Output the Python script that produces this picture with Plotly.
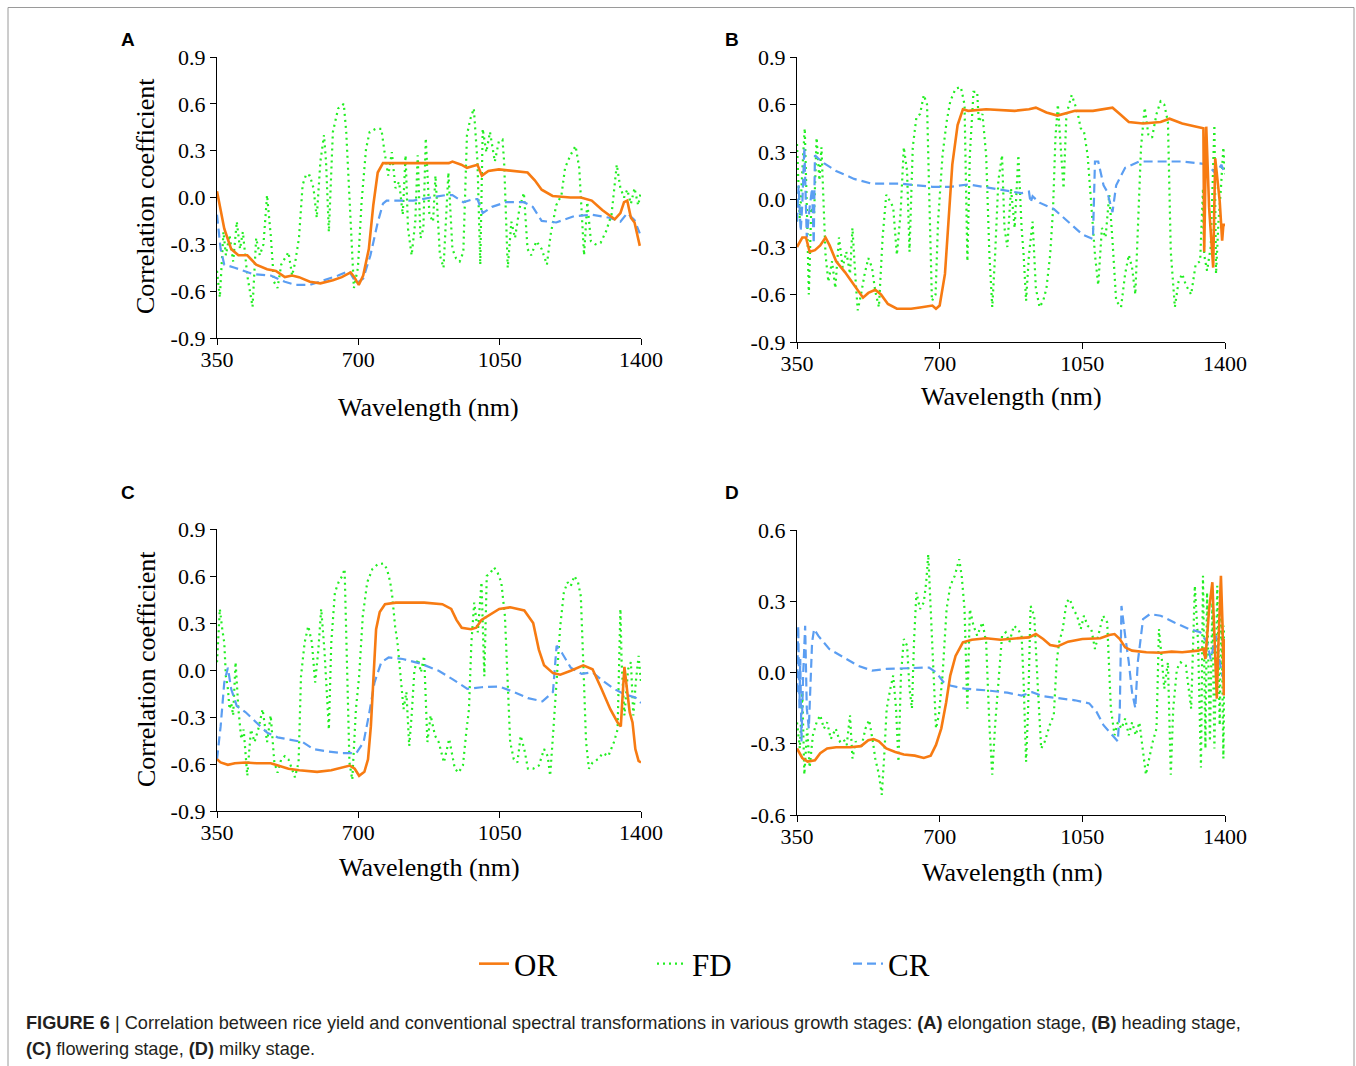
import plotly.graph_objects as go

# ---------------- data ----------------
X_TICKS = [350, 700, 1050, 1400]
X_TICK_LABELS = ["350", "700", "1050", "1400"]
Y_TICKS_ABC = [0.9, 0.6, 0.3, 0.0, -0.3, -0.6, -0.9]
Y_TICK_LABELS_ABC = ["0.9", "0.6", "0.3", "0.0", "-0.3", "-0.6", "-0.9"]
Y_TICKS_D = [0.6, 0.3, 0.0, -0.3, -0.6]
Y_TICK_LABELS_D = ["0.6", "0.3", "0.0", "-0.3", "-0.6"]
SERIES_NAMES = ["OR", "FD", "CR"]
PANEL_LETTERS = ["A", "B", "C", "D"]

A_OR = [(350,0.04),(368,-0.20),(385,-0.33),(403,-0.37),(425,-0.37),(447,-0.43),(474,-0.46),(496,-0.47),
        (518,-0.51),(536,-0.50),(553,-0.51),(580,-0.54),(606,-0.55),(637,-0.53),(659,-0.51),(681,-0.48),
        (690,-0.51),(701,-0.56),(712,-0.50),(726,-0.33),(737,-0.05),(748,0.16),(761,0.22),(792,0.22),
        (880,0.22),(924,0.22),(933,0.23),(955,0.21),(969,0.19),(991,0.21),(995,0.21),(1006,0.14),
        (1022,0.17),(1048,0.18),(1084,0.17),(1119,0.16),(1137,0.11),(1154,0.05),(1181,0.01),(1225,0.0),
        (1251,0.0),(1278,-0.02),(1304,-0.08),(1335,-0.14),(1349,-0.10),(1358,-0.03),(1366,-0.02),
        (1375,-0.13),(1384,-0.16),(1391,-0.24),(1397,-0.31)]
A_CR = [(350,-0.11),(359,-0.33),(368,-0.43),(394,-0.45),(438,-0.49),(483,-0.50),(518,-0.54),(544,-0.56),
        (580,-0.56),(615,-0.53),(650,-0.50),(677,-0.47),(695,-0.55),(712,-0.52),(730,-0.37),(748,-0.16),
        (761,-0.04),(770,-0.02),(836,-0.02),(880,0.0),(916,0.015),(933,0.015),(960,-0.03),(986,-0.01),
        (995,-0.01),(1008,-0.10),(1031,-0.06),(1066,-0.03),(1110,-0.03),(1132,-0.06),(1154,-0.15),
        (1190,-0.16),(1234,-0.12),(1278,-0.11),(1322,-0.13),(1349,-0.155),(1366,-0.10),(1384,-0.145),
        (1397,-0.23)]
A_FD = [(350,-0.47),(357,-0.64),(366,-0.22),(372,-0.37),(381,-0.24),(390,-0.41),(399,-0.155),(407,-0.33),
        (414,-0.22),(425,-0.50),(438,-0.70),(447,-0.26),(456,-0.37),(465,-0.30),(474,0.015),(483,-0.24),
        (491,-0.54),(500,-0.58),(509,-0.43),(518,-0.39),(527,-0.35),(536,-0.50),(544,-0.41),(553,-0.26),
        (562,0.08),(571,0.15),(580,0.14),(589,0.06),(597,-0.13),(606,0.23),(615,0.40),(620,0.23),
        (627,-0.22),(637,0.42),(650,0.57),(664,0.60),(670,0.42),(679,-0.05),(689,-0.58),(699,-0.45),
        (708,-0.03),(719,0.31),(728,0.42),(743,0.44),(757,0.44),(765,0.29),(774,0.14),(783,0.29),
        (792,0.06),(801,0.10),(810,-0.11),(817,0.27),(823,-0.20),(832,-0.37),(841,-0.155),(847,0.27),
        (854,-0.26),(861,-0.20),(867,0.38),(876,-0.11),(885,-0.155),(891,0.14),(902,-0.37),(911,-0.45),
        (923,0.16),(933,-0.33),(942,-0.39),(951,-0.41),(960,-0.35),(969,0.40),(977,0.50),(986,0.57),
        (995,0.23),(1002,-0.43),(1008,0.44),(1017,0.29),(1026,0.42),(1038,0.23),(1048,0.36),(1057,0.37),
        (1061,0.23),(1070,-0.45),(1079,-0.155),(1088,-0.26),(1099,-0.07),(1110,0.03),(1119,-0.33),
        (1128,-0.37),(1141,-0.28),(1154,-0.33),(1167,-0.43),(1176,-0.24),(1190,-0.05),(1203,0.015),
        (1212,0.19),(1225,0.27),(1238,0.33),(1247,0.19),(1259,-0.37),(1267,-0.03),(1276,-0.28),
        (1287,-0.30),(1300,-0.29),(1313,-0.22),(1327,-0.11),(1340,0.21),(1349,0.06),(1358,0.0),
        (1366,0.05),(1375,-0.04),(1384,0.06),(1393,-0.05),(1400,0.04)]

B_OR = [(350,-0.30),(363,-0.24),(372,-0.24),(381,-0.33),(394,-0.32),(407,-0.29),(420,-0.24),(430,-0.29),
        (446,-0.39),(468,-0.46),(490,-0.54),(512,-0.62),(525,-0.59),(542,-0.57),(556,-0.60),(573,-0.66),
        (595,-0.69),(630,-0.69),(656,-0.68),(682,-0.67),(691,-0.69),(700,-0.67),(713,-0.47),(722,-0.12),
        (731,0.22),(744,0.47),(757,0.57),(770,0.56),(814,0.57),(884,0.56),(919,0.57),(936,0.58),
        (962,0.55),(989,0.53),(1032,0.56),(1076,0.56),(1102,0.57),(1124,0.58),(1142,0.54),(1164,0.49),
        (1199,0.48),(1242,0.49),(1264,0.51),(1295,0.48),(1330,0.46),(1347,0.45),(1349,-0.33),(1354,0.46),
        (1361,-0.05),(1371,-0.43),(1376,0.26),(1387,-0.01),(1393,-0.26),(1396,-0.16),(1400,-0.16)]
B_CR = [(350,-0.14),(354,0.09),(359,-0.20),(363,-0.03),(368,0.33),(374,-0.24),(381,-0.05),(387,0.07),
        (391,-0.28),(394,0.28),(402,0.26),(416,0.23),(446,0.18),(490,0.13),(534,0.10),(604,0.10),
        (682,0.08),(726,0.08),(770,0.095),(814,0.075),(857,0.06),(901,0.04),(919,0.05),(923,-0.02),
        (928,0.02),(945,-0.02),(980,-0.06),(1015,-0.14),(1050,-0.22),(1076,-0.25),(1081,0.24),(1089,0.24),
        (1102,0.09),(1111,0.05),(1124,-0.08),(1133,0.09),(1155,0.20),(1190,0.24),(1251,0.24),(1295,0.24),
        (1347,0.225),(1365,0.20),(1378,0.16),(1391,0.22),(1400,0.16)]
B_FD = [(350,0.35),(357,-0.14),(363,0.18),(369,0.45),(375,-0.14),(379,-0.60),(385,-0.05),(392,-0.09),
        (398,0.39),(405,0.12),(410,0.33),(416,-0.03),(420,-0.35),(427,-0.52),(436,-0.39),(444,-0.56),
        (453,-0.24),(462,-0.43),(471,-0.33),(480,-0.47),(486,-0.18),(494,-0.52),(499,-0.70),(507,-0.60),
        (516,-0.47),(525,-0.37),(534,-0.43),(542,-0.58),(551,-0.68),(560,-0.24),(569,0.03),(578,-0.01),
        (586,-0.05),(595,-0.35),(604,-0.09),(612,0.33),(620,0.18),(626,-0.33),(634,0.33),(643,0.52),
        (652,0.54),(661,0.66),(669,0.60),(674,0.07),(681,-0.64),(690,-0.60),(696,-0.14),(707,0.28),
        (717,0.49),(726,0.62),(739,0.70),(752,0.71),(761,0.60),(768,-0.39),(774,0.28),(783,0.68),
        (792,0.68),(796,0.49),(805,0.54),(814,0.28),(822,-0.35),(829,-0.68),(836,-0.35),(844,0.12),
        (853,0.28),(859,-0.18),(866,-0.30),(875,0.07),(884,-0.18),(893,0.28),(901,-0.18),(906,-0.35),
        (912,-0.64),(919,-0.35),(928,-0.14),(936,-0.56),(945,-0.68),(954,-0.64),(962,-0.56),(971,-0.35),
        (978,-0.07),(984,0.39),(990,0.60),(997,0.33),(1004,0.07),(1011,0.54),(1024,0.66),(1032,0.60),
        (1039,0.54),(1046,0.45),(1054,0.43),(1063,0.28),(1072,-0.05),(1081,-0.35),(1089,-0.54),
        (1098,-0.18),(1107,-0.24),(1116,0.03),(1124,-0.26),(1133,-0.64),(1145,-0.68),(1155,-0.47),
        (1164,-0.35),(1172,-0.43),(1180,-0.60),(1186,-0.18),(1194,0.33),(1203,0.58),(1212,0.41),
        (1221,0.39),(1232,0.54),(1242,0.62),(1251,0.60),(1260,0.49),(1267,-0.33),(1277,-0.68),
        (1286,-0.52),(1295,-0.47),(1304,-0.54),(1317,-0.60),(1328,-0.41),(1339,-0.39),(1346,0.07),
        (1349,-0.35),(1356,-0.45),(1365,-0.30),(1374,0.47),(1378,-0.47),(1384,-0.14),(1390,0.07),
        (1396,0.33),(1400,0.16)]

C_OR = [(350,-0.57),(359,-0.59),(377,-0.605),(394,-0.595),(421,-0.59),(447,-0.595),(483,-0.595),
        (500,-0.61),(527,-0.63),(554,-0.64),(598,-0.65),(633,-0.64),(660,-0.62),(679,-0.61),(691,-0.63),
        (702,-0.675),(715,-0.65),(724,-0.57),(731,-0.36),(738,0.005),(744,0.26),(753,0.37),(766,0.42),
        (793,0.43),(863,0.43),(908,0.42),(930,0.39),(943,0.32),(956,0.27),(979,0.26),(992,0.27),
        (1005,0.32),(1023,0.35),(1049,0.39),(1076,0.40),(1111,0.38),(1133,0.30),(1147,0.13),(1160,0.03),
        (1182,-0.02),(1200,-0.03),(1226,-0.005),(1257,0.03),(1280,0.005),(1302,-0.12),(1324,-0.25),
        (1342,-0.335),(1350,-0.36),(1355,-0.14),(1359,0.02),(1366,-0.14),(1372,-0.27),(1379,-0.335),
        (1386,-0.505),(1394,-0.58),(1400,-0.59)]
C_CR = [(350,-0.57),(359,-0.36),(368,-0.08),(377,0.015),(385,-0.12),(399,-0.23),(421,-0.27),(447,-0.335),
        (474,-0.40),(500,-0.43),(536,-0.445),(562,-0.46),(589,-0.505),(624,-0.52),(660,-0.53),(695,-0.53),
        (713,-0.46),(726,-0.29),(740,-0.08),(757,0.05),(775,0.08),(810,0.07),(855,0.04),(899,-0.005),
        (934,-0.06),(970,-0.12),(1005,-0.11),(1049,-0.105),(1085,-0.14),(1120,-0.18),(1156,-0.20),
        (1182,-0.14),(1191,0.155),(1204,0.11),(1226,0.015),(1253,-0.025),(1280,-0.015),(1306,-0.07),
        (1333,-0.12),(1359,-0.155),(1386,-0.175),(1400,-0.21)]
C_FD = [(350,0.05),(357,0.39),(363,0.26),(368,0.175),(372,-0.04),(377,-0.12),(381,-0.25),(385,-0.21),
        (390,-0.29),(396,0.05),(403,-0.25),(410,-0.44),(416,-0.38),(425,-0.675),(434,-0.38),(443,-0.46),
        (452,-0.38),(463,-0.25),(474,-0.46),(483,-0.29),(492,-0.59),(500,-0.655),(509,-0.57),(518,-0.55),
        (527,-0.57),(536,-0.63),(543,-0.685),(552,-0.59),(558,-0.04),(567,0.175),(576,0.28),(585,0.175),
        (593,-0.08),(601,0.13),(608,0.39),(616,0.13),(620,-0.08),(627,-0.38),(633,0.175),(642,0.495),
        (651,0.56),(660,0.60),(666,0.645),(671,0.175),(678,-0.59),(685,-0.70),(694,-0.25),(702,-0.04),
        (711,0.345),(722,0.56),(735,0.645),(748,0.675),(762,0.68),(771,0.645),(779,0.56),(784,0.47),
        (791,0.28),(797,0.175),(806,-0.08),(812,-0.25),(819,-0.14),(826,-0.485),(832,-0.29),(839,0.005),
        (848,0.07),(855,-0.015),(863,0.09),(871,-0.46),(879,-0.29),(890,-0.42),(899,-0.46),(912,-0.59),
        (925,-0.44),(939,-0.63),(948,-0.655),(959,-0.61),(968,-0.38),(974,-0.25),(980,0.175),(987,0.43),
        (996,0.24),(1005,0.56),(1012,-0.04),(1018,0.60),(1027,0.62),(1036,0.655),(1045,0.62),(1054,0.56),
        (1063,0.345),(1069,-0.04),(1076,-0.46),(1085,-0.57),(1094,-0.59),(1102,-0.42),(1111,-0.505),
        (1120,-0.63),(1133,-0.63),(1147,-0.61),(1160,-0.505),(1169,-0.55),(1175,-0.675),(1182,-0.42),
        (1191,-0.04),(1200,0.28),(1209,0.495),(1218,0.56),(1226,0.535),(1235,0.60),(1244,0.56),
        (1251,0.47),(1257,0.05),(1264,-0.46),(1271,-0.63),(1280,-0.59),(1293,-0.57),(1306,-0.53),
        (1319,-0.55),(1333,-0.46),(1342,-0.38),(1349,0.39),(1352,0.05),(1359,-0.29),(1368,0.005),
        (1375,0.05),(1381,-0.29),(1387,-0.08),(1394,0.09),(1400,-0.08)]

D_OR = [(350,-0.32),(363,-0.36),(376,-0.375),(394,-0.37),(407,-0.34),(424,-0.32),(446,-0.315),(481,-0.315),
        (507,-0.31),(525,-0.285),(538,-0.28),(551,-0.29),(569,-0.32),(591,-0.335),(612,-0.345),(639,-0.35),
        (661,-0.36),(678,-0.35),(691,-0.305),(704,-0.235),(716,-0.125),(726,-0.013),(739,0.07),(757,0.127),
        (779,0.138),(814,0.144),(849,0.138),(884,0.144),(919,0.148),(936,0.162),(954,0.141),(971,0.116),
        (989,0.11),(1015,0.13),(1050,0.141),(1094,0.144),(1116,0.158),(1129,0.162),(1142,0.141),
        (1155,0.106),(1172,0.092),(1207,0.085),(1242,0.083),(1269,0.088),(1295,0.085),(1334,0.092),
        (1347,0.10),(1352,0.057),(1361,0.267),(1369,0.38),(1374,0.127),(1380,-0.11),(1384,0.127),
        (1390,0.407),(1394,0.197),(1397,-0.097),(1400,0.141)]
D_CR = [(350,-0.083),(353,0.197),(356,-0.15),(358,0.057),(361,-0.29),(365,-0.013),(370,0.197),(374,-0.15),
        (379,-0.236),(383,-0.083),(387,0.127),(392,0.183),(402,0.155),(429,0.099),(464,0.064),(499,0.029),
        (534,0.008),(569,0.015),(621,0.018),(674,0.021),(691,0.001),(709,-0.04),(726,-0.055),(761,-0.068),
        (814,-0.075),(866,-0.085),(901,-0.097),(927,-0.083),(954,-0.10),(989,-0.108),(1032,-0.117),
        (1067,-0.13),(1085,-0.166),(1102,-0.222),(1120,-0.257),(1137,-0.29),(1142,-0.152),(1146,0.28),
        (1155,0.155),(1164,0.043),(1172,-0.083),(1180,-0.15),(1186,0.043),(1199,0.225),(1216,0.246),
        (1242,0.239),(1277,0.21),(1312,0.183),(1339,0.17),(1356,0.127),(1365,0.057),(1378,0.155),
        (1387,0.043),(1396,-0.027),(1400,0.0)]
D_FD = [(350,-0.21),(357,-0.32),(363,-0.083),(368,-0.43),(375,-0.236),(381,-0.40),(389,-0.264),(398,-0.21),
        (407,-0.18),(416,-0.236),(424,-0.21),(433,-0.28),(445,-0.236),(455,-0.29),(464,-0.28),(472,-0.306),
        (480,-0.18),(486,-0.362),(494,-0.29),(507,-0.32),(518,-0.236),(527,-0.20),(536,-0.29),(542,-0.362),
        (551,-0.43),(558,-0.515),(564,-0.35),(570,-0.152),(579,-0.068),(586,-0.013),(593,-0.152),
        (599,-0.376),(605,-0.013),(612,0.141),(620,0.113),(626,-0.068),(632,-0.152),(637,0.127),(643,0.337),
        (652,0.267),(661,0.295),(667,0.38),(672,0.498),(678,0.267),(684,-0.013),(691,-0.236),(698,-0.18),
        (707,-0.013),(717,0.267),(726,0.365),(737,0.407),(748,0.477),(754,0.407),(761,0.267),(768,-0.152),
        (774,0.267),(783,0.197),(792,0.155),(805,0.211),(814,0.127),(822,-0.222),(829,-0.43),(836,-0.222),
        (844,-0.04),(853,0.155),(862,0.169),(871,0.127),(882,0.197),(892,0.183),(901,0.155),(906,-0.04),
        (912,-0.376),(917,-0.152),(923,0.28),(932,0.239),(941,-0.068),(949,-0.32),(958,-0.29),(970,-0.222),
        (980,-0.18),(987,0.043),(993,0.127),(1002,0.183),(1011,0.295),(1019,0.31),(1028,0.267),
        (1037,0.239),(1046,0.183),(1054,0.239),(1063,0.197),(1072,0.183),(1081,0.099),(1089,0.155),
        (1101,0.239),(1111,0.211),(1120,-0.152),(1129,-0.264),(1137,-0.21),(1146,-0.236),(1155,-0.194),
        (1164,-0.264),(1172,-0.21),(1181,-0.264),(1190,-0.21),(1199,-0.334),(1206,-0.43),(1214,-0.362),
        (1223,-0.29),(1232,-0.236),(1238,0.183),(1245,0.057),(1251,-0.068),(1260,0.043),(1267,-0.43),
        (1273,-0.152),(1282,0.015),(1291,0.043),(1304,0.029),(1317,-0.152),(1326,0.365),(1334,0.127),
        (1341,-0.40),(1346,0.407),(1352,-0.32),(1356,0.337),(1363,-0.29),(1369,0.295),(1374,-0.32),
        (1381,0.365),(1387,-0.222),(1391,0.295),(1396,-0.362),(1400,0.197)]

PANEL_DATA = {
    "A": {"OR": A_OR, "FD": A_FD, "CR": A_CR},
    "B": {"OR": B_OR, "FD": B_FD, "CR": B_CR},
    "C": {"OR": C_OR, "FD": C_FD, "CR": C_CR},
    "D": {"OR": D_OR, "FD": D_FD, "CR": D_CR},
}

# ---------------- layout / styling ----------------
W, H = 1356, 1066
SERIF = "Liberation Serif, Times New Roman, serif"
SANS = "Liberation Sans, Arial, sans-serif"

STYLE = {
    "OR": dict(color="#f77b12", width=2.6, dash="solid"),
    "FD": dict(color="#22ee22", width=2.2, dash="2px,4px"),
    "CR": dict(color="#5b9ef2", width=2.2, dash="9px,5px"),
}
LEGEND_REF = {"OR": "legend", "FD": "legend2", "CR": "legend3"}
DRAW_ORDER = ["FD", "CR", "OR"]

# pixel boxes: left, right, top, bottom
BOX = {"A": (217, 641, 57, 338), "B": (797, 1225, 57, 342),
       "C": (217, 641, 529, 811), "D": (797, 1225, 530, 815)}

def px(x):
    return x / W

def py(y):
    return 1 - y / H

fig = go.Figure()
for i, letter in enumerate(PANEL_LETTERS):
    n = "" if i == 0 else str(i + 1)
    for s in DRAW_ORDER:
        pts = PANEL_DATA[letter][s]
        st = STYLE[s]
        fig.add_trace(go.Scatter(
            x=[p[0] for p in pts], y=[p[1] for p in pts], mode="lines", name=s,
            line=dict(color=st["color"], width=st["width"], dash=st["dash"]),
            xaxis="x" + n, yaxis="y" + n, showlegend=(i == 0), legend=LEGEND_REF[s],
            hoverinfo="skip"))
    l, r, t, b = BOX[letter]
    yt = Y_TICKS_D if letter == "D" else Y_TICKS_ABC
    ytl = Y_TICK_LABELS_D if letter == "D" else Y_TICK_LABELS_ABC
    yr = [-0.6, 0.6] if letter == "D" else [-0.9, 0.9]
    axis_common = dict(showline=True, linecolor="black", linewidth=1.4, ticks="outside",
                       ticklen=6, tickwidth=1.4, tickcolor="black", showgrid=False,
                       zeroline=False, automargin=False,
                       tickfont=dict(family=SERIF, size=22, color="black"))
    fig.layout["xaxis" + n] = dict(domain=[px(l), px(r)], range=[350, 1400], anchor="y" + n,
                                   tickvals=X_TICKS, ticktext=X_TICK_LABELS, ticklabelstandoff=-5,
                                   **axis_common)
    fig.layout["yaxis" + n] = dict(domain=[py(b), py(t)], range=yr, anchor="x" + n,
                                   tickvals=yt, ticktext=ytl, **axis_common)

annotations = []
# panel letters
for letter, (x, y) in zip(PANEL_LETTERS, [(128, 40), (732, 40), (128, 492), (732, 492)]):
    annotations.append(dict(text="<b>%s</b>" % letter, x=px(x), y=py(y), xref="paper", yref="paper",
                            showarrow=False, xanchor="center", yanchor="middle",
                            font=dict(family=SANS, size=19, color="black")))
# x axis titles
for (x, y) in [(428, 407), (1011, 397), (430, 867), (1012, 872)]:
    annotations.append(dict(text="Wavelength (nm)", x=px(x), y=py(y), xref="paper", yref="paper",
                            showarrow=False, xanchor="center", yanchor="middle",
                            font=dict(family=SERIF, size=26, color="black")))
# y axis titles
for (x, y) in [(146, 196), (146, 669)]:
    annotations.append(dict(text="Correlation coefficient", x=px(x), y=py(y), xref="paper", yref="paper",
                            showarrow=False, xanchor="center", yanchor="middle", textangle=-90,
                            font=dict(family=SERIF, size=26, color="black")))
# caption
annotations.append(dict(
    text="<b>FIGURE 6</b> | Correlation between rice yield and conventional spectral transformations in various growth stages: <b>(A)</b> elongation stage, <b>(B)</b> heading stage,",
    x=px(24), y=py(1023), xref="paper", yref="paper", showarrow=False, xanchor="left", yanchor="middle",
    font=dict(family=SANS, size=18.2, color="#231f20")))
annotations.append(dict(
    text="<b>(C)</b> flowering stage, <b>(D)</b> milky stage.",
    x=px(24), y=py(1049), xref="paper", yref="paper", showarrow=False, xanchor="left", yanchor="middle",
    font=dict(family=SANS, size=18.2, color="#231f20")))

legend_common = dict(orientation="h", yanchor="middle", xanchor="left", bgcolor="rgba(0,0,0,0)",
                     font=dict(family=SERIF, size=31, color="black"), itemwidth=30)

frame = dict(color="#9a9a9a", width=1)
fig.update_layout(
    width=W, height=H, margin=dict(l=0, r=0, t=0, b=0, pad=0, autoexpand=False),
    paper_bgcolor="white", plot_bgcolor="white",
    annotations=annotations,
    legend=dict(x=px(474), y=py(964), **legend_common),
    legend2=dict(x=px(652), y=py(964), **legend_common),
    legend3=dict(x=px(848), y=py(964), **legend_common),
    shapes=[
        dict(type="line", xref="paper", yref="paper", x0=px(8), x1=px(8), y0=0, y1=py(7.5), line=frame),
        dict(type="line", xref="paper", yref="paper", x0=px(8), x1=px(1354), y0=py(7.5), y1=py(7.5), line=frame),
        dict(type="line", xref="paper", yref="paper", x0=px(1354), x1=px(1354), y0=0, y1=py(7.5), line=frame),
    ],
)

fig.write_html(
    "out.html",
    post_script="document.documentElement.style.margin='0';document.body.style.margin='0';",
)
